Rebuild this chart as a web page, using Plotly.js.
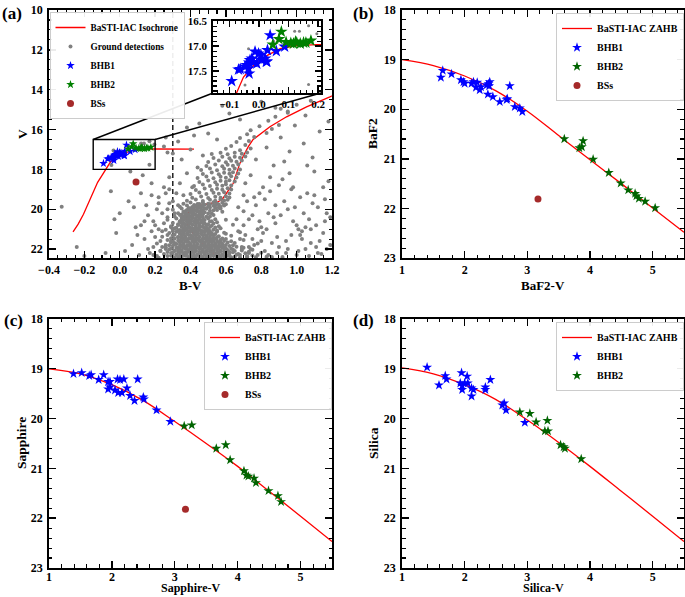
<!DOCTYPE html>
<html><head><meta charset="utf-8">
<script src="https://cdn.plot.ly/plotly-3.0.1.min.js"></script>
<style>body{margin:0;padding:0;background:#fff}#chart{width:685px;height:597px}</style>
</head><body><div id="chart"></div>
<script>
// ---------------- DATA ----------------
// Panel (a): BaSTI-IAC isochrone (HB part, then MS/SGB/RGB part, separated by null)
const isoBV = [-0.264,-0.235,-0.205,-0.175,-0.15,-0.125,-0.10,-0.08,-0.052,-0.018,0.027,0.072,0.128,0.196,0.30,0.42,null,
  0.566,0.53,0.49,0.45,0.415,0.39,0.378,0.38,0.395,0.42,0.46,0.51,0.55,0.578,0.595,0.615,0.641,0.66,0.679,0.70,0.726,0.754,0.80,0.849,0.943,1.056,1.188,1.25];
const isoV = [21.14,20.75,20.25,19.65,19.1,18.65,18.3,18.0,17.62,17.39,17.19,17.05,16.99,16.97,16.97,16.98,null,
  22.48,22.2,21.89,21.55,21.22,20.9,20.6,20.3,20.05,19.9,19.8,19.72,19.65,19.52,19.3,19.0,18.71,18.2,17.7,17.3,16.87,16.5,16.2,15.86,15.36,14.86,14.36,14.1];

// Ground detections (B-V, V)
const groundBV = [
 0.22,0.27,0.31,0.33,0.35,0.37,0.39,0.41,0.43,0.45,0.47,0.49,0.51,0.53,0.55,0.57,0.59,0.61,0.63,0.65,0.68,0.72,0.77,0.83,
 0.25,0.30,0.32,0.34,0.36,0.38,0.40,0.42,0.44,0.46,0.48,0.50,0.52,0.54,0.56,0.58,0.60,0.62,0.64,0.67,0.71,0.80,
 0.23,0.28,0.31,0.33,0.35,0.37,0.39,0.41,0.43,0.45,0.47,0.49,0.51,0.53,0.55,0.57,0.59,0.61,0.64,0.69,0.75,
 0.26,0.30,0.33,0.35,0.37,0.39,0.41,0.43,0.45,0.47,0.49,0.51,0.53,0.55,0.57,0.59,0.62,0.66,0.73,
 0.21,0.29,0.32,0.34,0.36,0.38,0.40,0.42,0.44,0.46,0.48,0.50,0.52,0.54,0.56,0.58,0.61,0.65,0.78,
 0.27,0.31,0.34,0.36,0.38,0.40,0.42,0.44,0.46,0.48,0.50,0.52,0.54,0.57,0.60,0.70,
 0.24,0.30,0.33,0.35,0.37,0.39,0.41,0.43,0.45,0.47,0.49,0.51,0.53,0.56,0.63,
 0.28,0.32,0.34,0.36,0.38,0.40,0.42,0.44,0.46,0.48,0.50,0.52,0.55,0.59,0.68,
 0.26,0.31,0.34,0.36,0.38,0.40,0.42,0.44,0.46,0.48,0.50,0.53,0.57,
 0.29,0.33,0.35,0.37,0.39,0.41,0.43,0.45,0.47,0.49,0.52,0.56,0.64,
 0.30,0.34,0.36,0.38,0.40,0.42,0.44,0.46,0.48,0.51,0.55,
 0.27,0.32,0.35,0.37,0.39,0.41,0.43,0.45,0.47,0.50,0.54,0.60,
 0.31,0.34,0.36,0.38,0.40,0.42,0.44,0.46,0.49,0.53,
 0.33,0.36,0.38,0.40,0.42,0.44,0.46,0.48,0.52,0.58,
 0.30,0.35,0.38,0.40,0.42,0.44,0.46,0.49,0.53,0.57,
 0.34,0.38,0.41,0.43,0.45,0.47,0.50,0.53,0.56,0.59,
 0.36,0.40,0.44,0.47,0.50,0.53,0.55,0.58,0.60,
 0.38,0.43,0.47,0.51,0.54,0.57,0.59,0.61,
 0.41,0.46,0.50,0.54,0.57,0.60,0.62,
 0.40,0.45,0.49,0.53,0.56,0.59,0.62,
 0.43,0.48,0.52,0.55,0.58,0.61,0.63,
 0.42,0.47,0.51,0.55,0.58,0.60,0.63,
 0.45,0.50,0.54,0.57,0.60,0.62,0.65,
 0.44,0.49,0.53,0.57,0.60,0.63,0.66,
 0.47,0.52,0.56,0.59,0.62,0.64,0.67,
 0.46,0.51,0.55,0.59,0.62,0.65,0.68,
 0.49,0.54,0.58,0.61,0.64,0.67,
 0.50,0.56,0.60,0.63,0.66,0.69,
 0.53,0.58,0.62,0.65,0.68,0.71,
 0.52,0.57,0.61,0.65,0.69,0.72,
 0.60,0.68,0.74, 0.63,0.71, 0.66,0.73, 0.68,0.76, 0.72,0.83, 0.74,0.86, 0.79,0.90, 0.84, 0.88, 0.95, 0.91, 1.00, 1.08,
 0.72,0.75,0.78,0.80,0.82,0.85,0.88,0.90,0.92,0.95,0.97,1.00,1.02,1.05,1.08,1.10,1.12,1.15,1.17,1.19,
 0.74,0.77,0.83,0.87,0.91,0.96,0.99,1.04,1.09,1.13,1.18,0.81,0.86,0.94,1.03,1.07,1.14,0.76,0.79,0.84,0.89,0.93,0.98,1.01,1.06,1.11,1.16,0.73,0.71,0.70,0.69,0.68,0.72,0.66,0.67,0.70,
 0.45,0.50,0.38,0.62,0.58,0.68,0.88,0.80,1.18,1.05,0.95,0.55,0.42,0.33,0.26,0.30,0.35,0.40,0.47,0.44,0.38,0.34,0.41,0.36,
 -0.328,-0.243,-0.05,0.0,0.05,0.09,0.12,0.14,0.16,0.18,0.19,0.21,0.22,0.24,0.25,0.27,0.28,0.29,-0.02,0.03,0.07,0.11,-0.08,-0.2,0.17,0.20,0.23,0.26,0.13,0.06,-0.03,
 0.15,0.19,0.22,0.26,0.12,0.28,0.10,0.16,0.21,0.24,0.18,0.08,
 0.05,0.121,0.137,0.168,0.196,-0.035,-0.047,0.168,0.25,0.27,
 0.29,0.32,0.34,0.36,0.38,0.40,0.42,0.44,0.46,0.48,0.50,0.52,0.54,0.56,0.58,0.60,0.62,0.66,0.75,
 0.27,0.31,0.33,0.35,0.37,0.39,0.41,0.43,0.45,0.47,0.49,0.51,0.53,0.55,0.57,0.59,0.62,0.65,0.73,
 0.29,0.32,0.34,0.36,0.38,0.40,0.42,0.44,0.46,0.48,0.50,0.52,0.54,0.56,0.58,0.60,0.63,0.70,
 0.28,0.31,0.34,0.36,0.38,0.40,0.42,0.44,0.46,0.48,0.50,0.52,0.54,0.56,0.58,0.60,0.64,
 0.30,0.33,0.35,0.37,0.39,0.41,0.43,0.45,0.47,0.49,0.51,0.53,0.55,0.57,0.59,0.63,
 0.29,0.33,0.35,0.37,0.39,0.41,0.43,0.45,0.47,0.49,0.51,0.53,0.55,0.58,
 0.31,0.34,0.36,0.38,0.40,0.42,0.44,0.46,0.48,0.50,0.52,0.54,0.60,
 0.30,0.33,0.35,0.37,0.39,0.41,0.43,0.45,0.47,0.49,0.51,0.55,
 0.32,0.35,0.37,0.39,0.41,0.43,0.45,0.47,0.49,0.51,0.54,
 0.33,0.35,0.37,0.39,0.41,0.43,0.45,0.47,0.50,0.53,
 0.34,0.36,0.38,0.40,0.42,0.44,0.46,0.48,0.52,
 0.35,0.37,0.39,0.41,0.43,0.45,0.47,0.51,
 0.35,0.37,0.39,0.41,0.43,0.45,0.47,0.50,
 0.37,0.39,0.41,0.43,0.45,0.47,0.51,0.55,
 0.39,0.42,0.44,0.46,0.48,0.51,0.54,0.57,
 0.42,0.45,0.48,0.51,0.54,0.56,0.59,
 0.67,0.70,0.74,0.77,0.81,0.84,0.87,0.90,0.94,0.97,1.01,1.04,1.08,1.12,1.16,1.19,0.69,0.73,0.78,0.82,0.86,0.91,0.95,0.99,1.03,1.07,1.11,1.15,0.68,0.75,0.79,0.83,0.88,0.92,0.96,1.00,1.05,1.09,1.13,1.17,0.71,0.76,0.80,0.85,0.89,0.93,0.98,1.02,1.06,1.10,
 0.29,0.31,0.27,0.25,0.30,0.32,0.28,0.26,0.23,0.20,0.31,0.29,0.33,0.24,0.18,0.14,0.22,0.27,0.30,0.19];
const groundV = [
 22.43,22.35,22.44,22.38,22.42,22.34,22.41,22.37,22.43,22.36,22.41,22.38,22.44,22.35,22.40,22.37,22.43,22.34,22.41,22.38,22.42,22.36,22.41,22.39,
 22.25,22.17,22.28,22.20,22.24,22.16,22.23,22.19,22.27,22.18,22.22,22.26,22.17,22.24,22.20,22.28,22.19,22.23,22.16,22.25,22.21,22.18,
 22.08,22.01,22.09,22.03,22.07,21.99,22.06,22.02,22.10,22.00,22.05,22.08,22.01,22.06,22.03,22.09,22.00,22.05,22.02,22.07,22.04,
 21.91,21.84,21.92,21.85,21.90,21.83,21.89,21.86,21.93,21.84,21.88,21.91,21.83,21.89,21.86,21.92,21.85,21.88,21.90,
 21.72,21.66,21.74,21.67,21.71,21.65,21.73,21.68,21.75,21.66,21.70,21.73,21.65,21.71,21.68,21.74,21.67,21.70,21.72,
 21.55,21.48,21.56,21.49,21.54,21.47,21.53,21.50,21.57,21.48,21.52,21.55,21.47,21.53,21.50,21.54,
 21.38,21.31,21.39,21.32,21.37,21.30,21.36,21.33,21.40,21.31,21.35,21.38,21.30,21.36,21.33,
 21.20,21.13,21.21,21.14,21.19,21.12,21.18,21.15,21.22,21.13,21.17,21.20,21.12,21.18,21.15,
 21.03,20.96,21.04,20.97,21.02,20.95,21.01,20.98,21.05,20.96,21.00,21.03,20.95,
 20.86,20.79,20.87,20.80,20.85,20.78,20.84,20.81,20.88,20.79,20.83,20.86,20.78,
 20.69,20.62,20.70,20.63,20.68,20.61,20.67,20.64,20.71,20.62,20.66,
 20.53,20.46,20.54,20.47,20.52,20.45,20.51,20.48,20.55,20.46,20.50,20.53,
 20.36,20.29,20.37,20.30,20.35,20.28,20.34,20.31,20.38,20.29,
 20.20,20.13,20.21,20.14,20.19,20.12,20.18,20.15,20.22,20.13,
 20.03,19.96,20.04,19.97,20.02,19.95,20.01,19.98,20.05,19.96,
 19.88,19.81,19.89,19.82,19.87,19.80,19.86,19.83,19.90,19.81,
 19.73,19.66,19.74,19.67,19.72,19.65,19.71,19.68,19.75,
 19.58,19.51,19.59,19.52,19.57,19.50,19.56,19.53,
 19.43,19.36,19.44,19.37,19.42,19.35,19.41,
 19.23,19.16,19.24,19.17,19.22,19.15,19.21,
 19.03,18.96,19.04,18.97,19.02,18.95,19.01,
 18.83,18.76,18.84,18.77,18.82,18.75,18.81,
 18.63,18.56,18.64,18.57,18.62,18.55,18.61,
 18.43,18.36,18.44,18.37,18.42,18.35,18.41,
 18.23,18.16,18.24,18.17,18.22,18.15,18.21,
 18.03,17.96,18.04,17.97,18.02,17.95,18.01,
 17.83,17.76,17.84,17.77,17.82,17.75,
 17.63,17.56,17.64,17.57,17.62,17.55,
 17.43,17.36,17.44,17.37,17.42,17.35,
 17.23,17.16,17.24,17.17,17.22,17.15,
 16.96,17.04,16.95, 16.83,16.77, 16.63,16.57, 16.43,16.37, 16.23,16.17, 16.03,15.97, 15.83,15.77, 15.56, 15.36, 15.16, 14.96, 14.76, 14.56,
 19.6,20.3,21.0,21.6,22.1,19.1,20.7,21.9,18.5,20.0,21.3,22.3,19.4,20.9,21.7,18.1,19.9,21.2,22.0,20.4,
 18.3,17.5,16.9,17.8,16.4,17.1,15.8,16.7,17.4,16.1,18.6,18.9,22.4,22.2,21.5,22.35,22.25,21.8,20.6,20.2,21.4,19.6,20.6,21.0,19.2,20.8,19.5,22.2,21.3,20.8,22.0,21.5,22.4,20.5,19.9,19.3,
 15.7,16.2,15.9,15.2,14.8,15.5,14.9,14.6,15.6,15.3,15.1,16.5,16.3,16.6,16.4,17.2,17.5,17.0,17.3,17.9,18.2,18.7,18.9,19.3,
 19.88,21.9,19.1,20.2,19.6,20.9,19.2,21.5,20.3,18.7,21.9,20.0,19.4,21.1,18.9,20.4,19.7,21.6,21.2,22.1,21.8,22.3,22.2,22.35,22.2,21.4,22.1,21.8,18.3,18.1,20.5,
 19.8,20.6,21.0,19.2,20.8,18.4,21.3,22.0,22.35,20.2,19.3,19.9,
 16.9,16.7,16.7,16.59,16.75,17.05,17.78,17.77,16.85,17.15,
 22.33,22.28,22.32,22.29,22.34,22.30,22.31,22.27,22.33,22.29,22.32,22.30,22.28,22.34,22.29,22.31,22.33,22.28,22.32,
 22.15,22.10,22.14,22.11,22.16,22.12,22.13,22.09,22.15,22.11,22.14,22.12,22.10,22.16,22.11,22.13,22.15,22.10,22.14,
 21.98,21.93,21.97,21.94,21.99,21.95,21.96,21.92,21.98,21.94,21.97,21.95,21.93,21.99,21.94,21.96,21.98,21.93,
 21.81,21.76,21.80,21.77,21.82,21.78,21.79,21.75,21.81,21.77,21.80,21.78,21.76,21.82,21.77,21.79,21.81,
 21.63,21.58,21.62,21.59,21.64,21.60,21.61,21.57,21.63,21.59,21.62,21.60,21.58,21.64,21.59,21.61,
 21.46,21.41,21.45,21.42,21.47,21.43,21.44,21.40,21.46,21.42,21.45,21.43,21.41,21.47,
 21.28,21.23,21.27,21.24,21.29,21.25,21.26,21.22,21.28,21.24,21.27,21.25,21.23,
 21.10,21.05,21.09,21.06,21.11,21.07,21.08,21.04,21.10,21.06,21.09,21.07,
 20.93,20.88,20.92,20.89,20.94,20.90,20.91,20.87,20.93,20.89,20.92,
 20.76,20.71,20.75,20.72,20.77,20.73,20.74,20.70,20.76,20.72,
 20.60,20.55,20.59,20.56,20.61,20.57,20.58,20.54,20.60,
 20.43,20.38,20.42,20.39,20.44,20.40,20.41,20.37,
 20.27,20.22,20.26,20.23,20.28,20.24,20.25,20.21,
 20.10,20.05,20.09,20.06,20.11,20.07,20.08,20.04,
 19.94,19.89,19.93,19.90,19.95,19.91,19.92,19.88,
 19.79,19.74,19.78,19.75,19.80,19.76,19.77,
 21.1,20.1,22.0,19.8,21.2,22.3,20.4,18.8,21.6,19.0,22.1,20.2,21.0,22.2,20.6,21.8,21.9,20.5,22.3,19.5,21.7,20.3,22.0,19.9,21.1,20.5,21.9,18.9,22.3,21.5,19.2,21.0,19.8,22.4,18.2,20.8,22.0,19.7,21.6,20.2,18.7,19.4,20.9,18.4,22.2,17.6,18.9,21.3,17.8,19.3,
 20.9,20.2,21.3,20.7,19.6,19.2,19.0,22.0,21.6,20.8,21.7,22.2,19.8,21.9,21.1,20.6,19.7,20.0,21.0,22.3];

// BHB stars in panel (a)
const bhb1BV = [-0.092,-0.069,-0.063,-0.047,-0.041,-0.033,-0.030,-0.024,-0.033,-0.035,-0.007,-0.013,-0.001,0.007,0.021,0.029,0.027,0.038,0.059,0.087,0.008,0.025,-0.018];
const bhb1V  = [17.70,17.47,17.46,17.41,17.38,17.33,17.28,17.25,17.55,17.45,17.35,17.11,17.15,17.18,17.25,17.08,17.31,16.78,17.10,17.01,17.27,17.31,17.32];
const bhb2BV = [0.047,0.068,0.076,0.092,0.108,0.117,0.124,0.128,0.140,0.151,0.159,0.176];
const bhb2V  = [16.97,16.86,16.71,16.92,16.94,16.95,16.91,16.93,16.95,16.93,16.93,16.89];
const bsBV = [0.092];
const bsV  = [18.63];

// Panel (b): BaF2
const zahbBaF2x = [1.0,1.5,2.0,2.5,3.0,3.5,4.0,4.5,5.0,5.5];
const zahbBaF2y = [19.0,19.12,19.33,19.63,20.04,20.53,21.02,21.5,21.99,22.48];
const b1BaF2x = [1.62,1.65,1.79,1.94,1.98,2.00,2.11,2.14,2.18,2.20,2.24,2.26,2.35,2.38,2.40,2.39,2.37,2.45,2.56,2.67,2.68,2.72,2.80,2.88,2.92];
const b1BaF2y = [19.36,19.22,19.29,19.41,19.45,19.48,19.48,19.45,19.56,19.46,19.61,19.55,19.51,19.49,19.45,19.53,19.70,19.75,19.85,19.81,19.79,19.53,19.95,19.98,20.05];
const b2BaF2x = [3.59,3.83,3.87,3.89,4.05,4.30,4.49,4.61,4.72,4.74,4.78,4.88,5.04];
const b2BaF2y = [20.60,20.78,20.76,20.64,21.01,21.28,21.49,21.63,21.70,21.75,21.80,21.86,21.99];
const bsBaF2x = [3.17];
const bsBaF2y = [21.81];

// Panel (c): Sapphire
const zahbSapx = [1.0,1.5,2.0,2.5,3.0,3.5,4.0,4.5,5.0,5.5];
const zahbSapy = [19.0,19.1,19.32,19.64,20.06,20.5,20.96,21.46,21.96,22.47];
const b1Sapx = [1.39,1.52,1.64,1.67,1.79,1.87,1.94,1.97,1.94,1.97,2.05,2.09,2.13,2.19,2.10,2.16,2.24,2.29,2.36,2.41,2.50,2.51,2.71,2.93];
const b1Sapy = [19.10,19.08,19.14,19.12,19.22,19.12,19.26,19.26,19.41,19.37,19.43,19.21,19.22,19.21,19.48,19.48,19.39,19.54,19.64,19.21,19.57,19.61,19.83,20.06];
const b2Sapx = [3.15,3.27,3.66,3.81,3.88,4.10,4.14,4.17,4.26,4.29,4.49,4.64,4.69];
const b2Sapy = [20.15,20.13,20.60,20.53,20.83,21.05,21.14,21.16,21.20,21.29,21.45,21.55,21.67];
const bsSapx = [3.17];
const bsSapy = [21.82];

// Panel (d): Silica
const zahbSilx = [1.0,1.5,2.0,2.5,3.0,3.5,4.0,4.5,5.0,5.5];
const zahbSily = [18.98,19.1,19.32,19.62,20.03,20.48,20.96,21.46,21.96,22.47];
const b1Silx = [1.40,1.59,1.69,1.71,1.93,1.95,1.96,1.96,2.00,2.04,2.05,2.11,2.14,2.11,2.33,2.33,2.41,2.60,2.63,2.66,2.96];
const b1Sily = [18.97,19.33,19.14,19.21,19.29,19.08,19.34,19.42,19.29,19.15,19.29,19.39,19.42,19.55,19.42,19.37,19.22,19.73,19.69,19.83,20.08];
const b2Silx = [2.88,3.04,3.14,3.32,3.28,3.33,3.53,3.58,3.60,3.86];
const b2Sily = [19.87,19.90,20.07,20.04,20.25,20.25,20.53,20.57,20.60,20.81];

// ---------------- LAYOUT HELPERS ----------------
const FONT = 'Liberation Serif';
const XA = [0.0715, 0.4847], XB = [0.5869, 0.9985];
const YT = [0.5678, 0.9832], YB = [0.0486, 0.4657];
const XI = [0.311, 0.4686], YI = [0.8442, 0.9653];
const RA_X = [-0.4, 1.2], RA_Y = [22.45, 10];
const RI_X = [-0.155, 0.21], RI_Y = [17.94, 16.49];
const RECT_X = [-0.15, 0.2], RECT_Y = [16.5, 18.0];

function tf(sz){ return {family: FONT, size: sz, color: 'black', weight: 'bold'}; }
function axis(domain, range, dtick, mdtick, anchor, fmt, standoff){
  const a = {
    domain: domain, range: range, anchor: anchor, dtick: dtick, tick0: 0,
    ticks: 'inside', ticklen: 7, tickwidth: 1.4, tickcolor: 'black', mirror: 'allticks',
    showline: true, linecolor: 'black', linewidth: 1.8, showgrid: false, zeroline: false,
    minor: {dtick: mdtick, tick0: 0, ticks: 'inside', ticklen: 3.5, tickwidth: 1.1, tickcolor: 'black', showgrid: false},
    tickfont: tf(12), ticklabelstandoff: standoff === undefined ? 2 : standoff
  };
  if (fmt) a.tickformat = fmt;
  return a;
}
function lin(v, r, d){ return d[0] + (v - r[0]) / (r[1] - r[0]) * (d[1] - d[0]); }
function px(x){ return x / 685; }
function py(y){ return 1 - y / 597; }

const starSz = 7.5;
const traces = [
  // panel a
  {x: isoBV, y: isoV, xaxis: 'x', yaxis: 'y', mode: 'lines', name: 'BaSTI-IAC Isochrone', line: {color: '#ff0000', width: 1.3}, connectgaps: false, legend: 'legend'},
  {x: groundBV, y: groundV, xaxis: 'x', yaxis: 'y', mode: 'markers', name: 'Ground detections', marker: {color: '#808080', size: 4}, legend: 'legend'},
  {x: bhb1BV, y: bhb1V, xaxis: 'x', yaxis: 'y', mode: 'markers', name: 'BHB1', marker: {color: '#0000ff', size: 6.5, symbol: 'star'}, legend: 'legend'},
  {x: bhb2BV, y: bhb2V, xaxis: 'x', yaxis: 'y', mode: 'markers', name: 'BHB2', marker: {color: '#008000', size: 6.5, symbol: 'star'}, legend: 'legend'},
  {x: bsBV, y: bsV, xaxis: 'x', yaxis: 'y', mode: 'markers', name: 'BSs', marker: {color: '#a52a2a', size: 7}, legend: 'legend'},
  // inset
  {x: isoBV, y: isoV, xaxis: 'x5', yaxis: 'y5', mode: 'lines', showlegend: false, line: {color: '#ff0000', width: 1.3}},
  {x: groundBV, y: groundV, xaxis: 'x5', yaxis: 'y5', mode: 'markers', showlegend: false, marker: {color: '#808080', size: 3}},
  {x: bhb1BV, y: bhb1V, xaxis: 'x5', yaxis: 'y5', mode: 'markers', showlegend: false, marker: {color: '#0000ff', size: 9.5, symbol: 'star'}},
  {x: bhb2BV, y: bhb2V, xaxis: 'x5', yaxis: 'y5', mode: 'markers', showlegend: false, marker: {color: '#008000', size: 9.5, symbol: 'star'}},
  // panel b
  {x: zahbBaF2x, y: zahbBaF2y, xaxis: 'x2', yaxis: 'y2', mode: 'lines', line: {color: '#ff0000', width: 1.3, shape: 'spline'}, name: 'BaSTI-IAC ZAHB', legend: 'legend2'},
  {x: b1BaF2x, y: b1BaF2y, xaxis: 'x2', yaxis: 'y2', mode: 'markers', name: 'BHB1', marker: {color: '#0000ff', size: starSz, symbol: 'star'}, legend: 'legend2'},
  {x: b2BaF2x, y: b2BaF2y, xaxis: 'x2', yaxis: 'y2', mode: 'markers', name: 'BHB2', marker: {color: '#006400', size: starSz, symbol: 'star'}, legend: 'legend2'},
  {x: bsBaF2x, y: bsBaF2y, xaxis: 'x2', yaxis: 'y2', mode: 'markers', name: 'BSs', marker: {color: '#a52a2a', size: 7}, legend: 'legend2'},
  // panel c
  {x: zahbSapx, y: zahbSapy, xaxis: 'x3', yaxis: 'y3', mode: 'lines', line: {color: '#ff0000', width: 1.3, shape: 'spline'}, name: 'BaSTI-IAC ZAHB', legend: 'legend3'},
  {x: b1Sapx, y: b1Sapy, xaxis: 'x3', yaxis: 'y3', mode: 'markers', name: 'BHB1', marker: {color: '#0000ff', size: starSz, symbol: 'star'}, legend: 'legend3'},
  {x: b2Sapx, y: b2Sapy, xaxis: 'x3', yaxis: 'y3', mode: 'markers', name: 'BHB2', marker: {color: '#006400', size: starSz, symbol: 'star'}, legend: 'legend3'},
  {x: bsSapx, y: bsSapy, xaxis: 'x3', yaxis: 'y3', mode: 'markers', name: 'BSs', marker: {color: '#a52a2a', size: 7}, legend: 'legend3'},
  // panel d
  {x: zahbSilx, y: zahbSily, xaxis: 'x4', yaxis: 'y4', mode: 'lines', line: {color: '#ff0000', width: 1.3, shape: 'spline'}, name: 'BaSTI-IAC ZAHB', legend: 'legend4'},
  {x: b1Silx, y: b1Sily, xaxis: 'x4', yaxis: 'y4', mode: 'markers', name: 'BHB1', marker: {color: '#0000ff', size: starSz, symbol: 'star'}, legend: 'legend4'},
  {x: b2Silx, y: b2Sily, xaxis: 'x4', yaxis: 'y4', mode: 'markers', name: 'BHB2', marker: {color: '#006400', size: starSz, symbol: 'star'}, legend: 'legend4'}
];

function leg(x, y, xanchor, fs){
  return {x: x, y: y, xanchor: xanchor, yanchor: 'top', xref: 'paper', yref: 'paper',
    bgcolor: 'rgba(255,255,255,0.92)', bordercolor: '#cccccc', borderwidth: 1,
    font: tf(fs), itemwidth: 30, tracegroupgap: 0};
}

// connecting lines from zoom rectangle to inset
const rTL = [lin(RECT_X[0], RA_X, XA), lin(RECT_Y[0], RA_Y, YT)];
const rTR = [lin(RECT_X[1], RA_X, XA), lin(RECT_Y[0], RA_Y, YT)];

function label(text, x, y, size, angle, yanchor){
  return {text: text, x: px(x), y: py(y), xref: 'paper', yref: 'paper', xanchor: 'center', yanchor: yanchor || 'middle',
    showarrow: false, font: tf(size), textangle: angle || 0};
}

const layout = {
  width: 685, height: 597, margin: {l: 0, r: 0, t: 0, b: 0},
  paper_bgcolor: 'white', plot_bgcolor: 'white', font: {family: FONT, color: 'black'},
  xaxis: axis(XA, RA_X, 0.2, 0.05, 'y', '.1f', 0),
  yaxis: axis(YT, RA_Y, 2, 0.5, 'x'),
  xaxis2: axis(XB, [1, 5.5], 1, 0.2, 'y2', null, 0),
  yaxis2: axis(YT, [23, 18], 1, 0.2, 'x2'),
  xaxis3: axis(XA, [1, 5.5], 1, 0.2, 'y3', null, -3),
  yaxis3: axis(YB, [23, 18], 1, 0.2, 'x3'),
  xaxis4: axis(XB, [1, 5.5], 1, 0.2, 'y4', null, -3),
  yaxis4: axis(YB, [23, 18], 1, 0.2, 'x4'),
  xaxis5: Object.assign(axis(XI, RI_X, 0.1, 0.02, 'y5', '.1f', 0), {tickfont: tf(11), ticklen: 6}),
  yaxis5: Object.assign(axis(YI, RI_Y, 0.5, 0.1, 'x5', '.1f'), {tickfont: tf(11), ticklen: 6}),
  legend: leg(px(49.5), py(12), 'left', 9.3),
  legend2: leg(px(684), py(13), 'right', 10),
  legend3: leg(px(332), py(322), 'right', 10),
  legend4: leg(px(684), py(322), 'right', 10),
  shapes: [
    {type: 'line', xref: 'x', yref: 'paper', x0: 0.3, x1: 0.3, y0: YT[0], y1: YT[1], line: {color: 'black', width: 1.3, dash: '5px,3px'}, layer: 'below'},
    {type: 'rect', xref: 'x', yref: 'y', x0: RECT_X[0], x1: RECT_X[1], y0: RECT_Y[0], y1: RECT_Y[1], line: {color: 'black', width: 1.4}},
    {type: 'line', xref: 'paper', yref: 'paper', x0: rTL[0], y0: rTL[1], x1: XI[0], y1: YI[0], line: {color: 'black', width: 1.4}},
    {type: 'line', xref: 'paper', yref: 'paper', x0: rTR[0], y0: rTR[1], x1: XI[1], y1: YI[0], line: {color: 'black', width: 1.4}}
  ],
  annotations: [
    label('(a)', 12, 13, 17),
    label('(b)', 363, 13, 17),
    label('(c)', 13, 320, 17),
    label('(d)', 363, 320, 17),
    label('B-V', 190, 285, 13),
    label('BaF2-V', 543, 285, 13),
    label('Sapphire-V', 190, 596.5, 12, 0, 'bottom'),
    label('Silica-V', 543, 596.5, 12, 0, 'bottom'),
    label('V', 23, 134, 13.5, -90),
    label('BaF2', 373, 134, 13.5, -90),
    label('Sapphire', 21, 443, 13.5, -90),
    label('Silica', 373, 443, 13.5, -90)
  ],
  showlegend: true
};

Plotly.newPlot('chart', traces, layout, {displayModeBar: false, staticPlot: true});
</script></body></html>
